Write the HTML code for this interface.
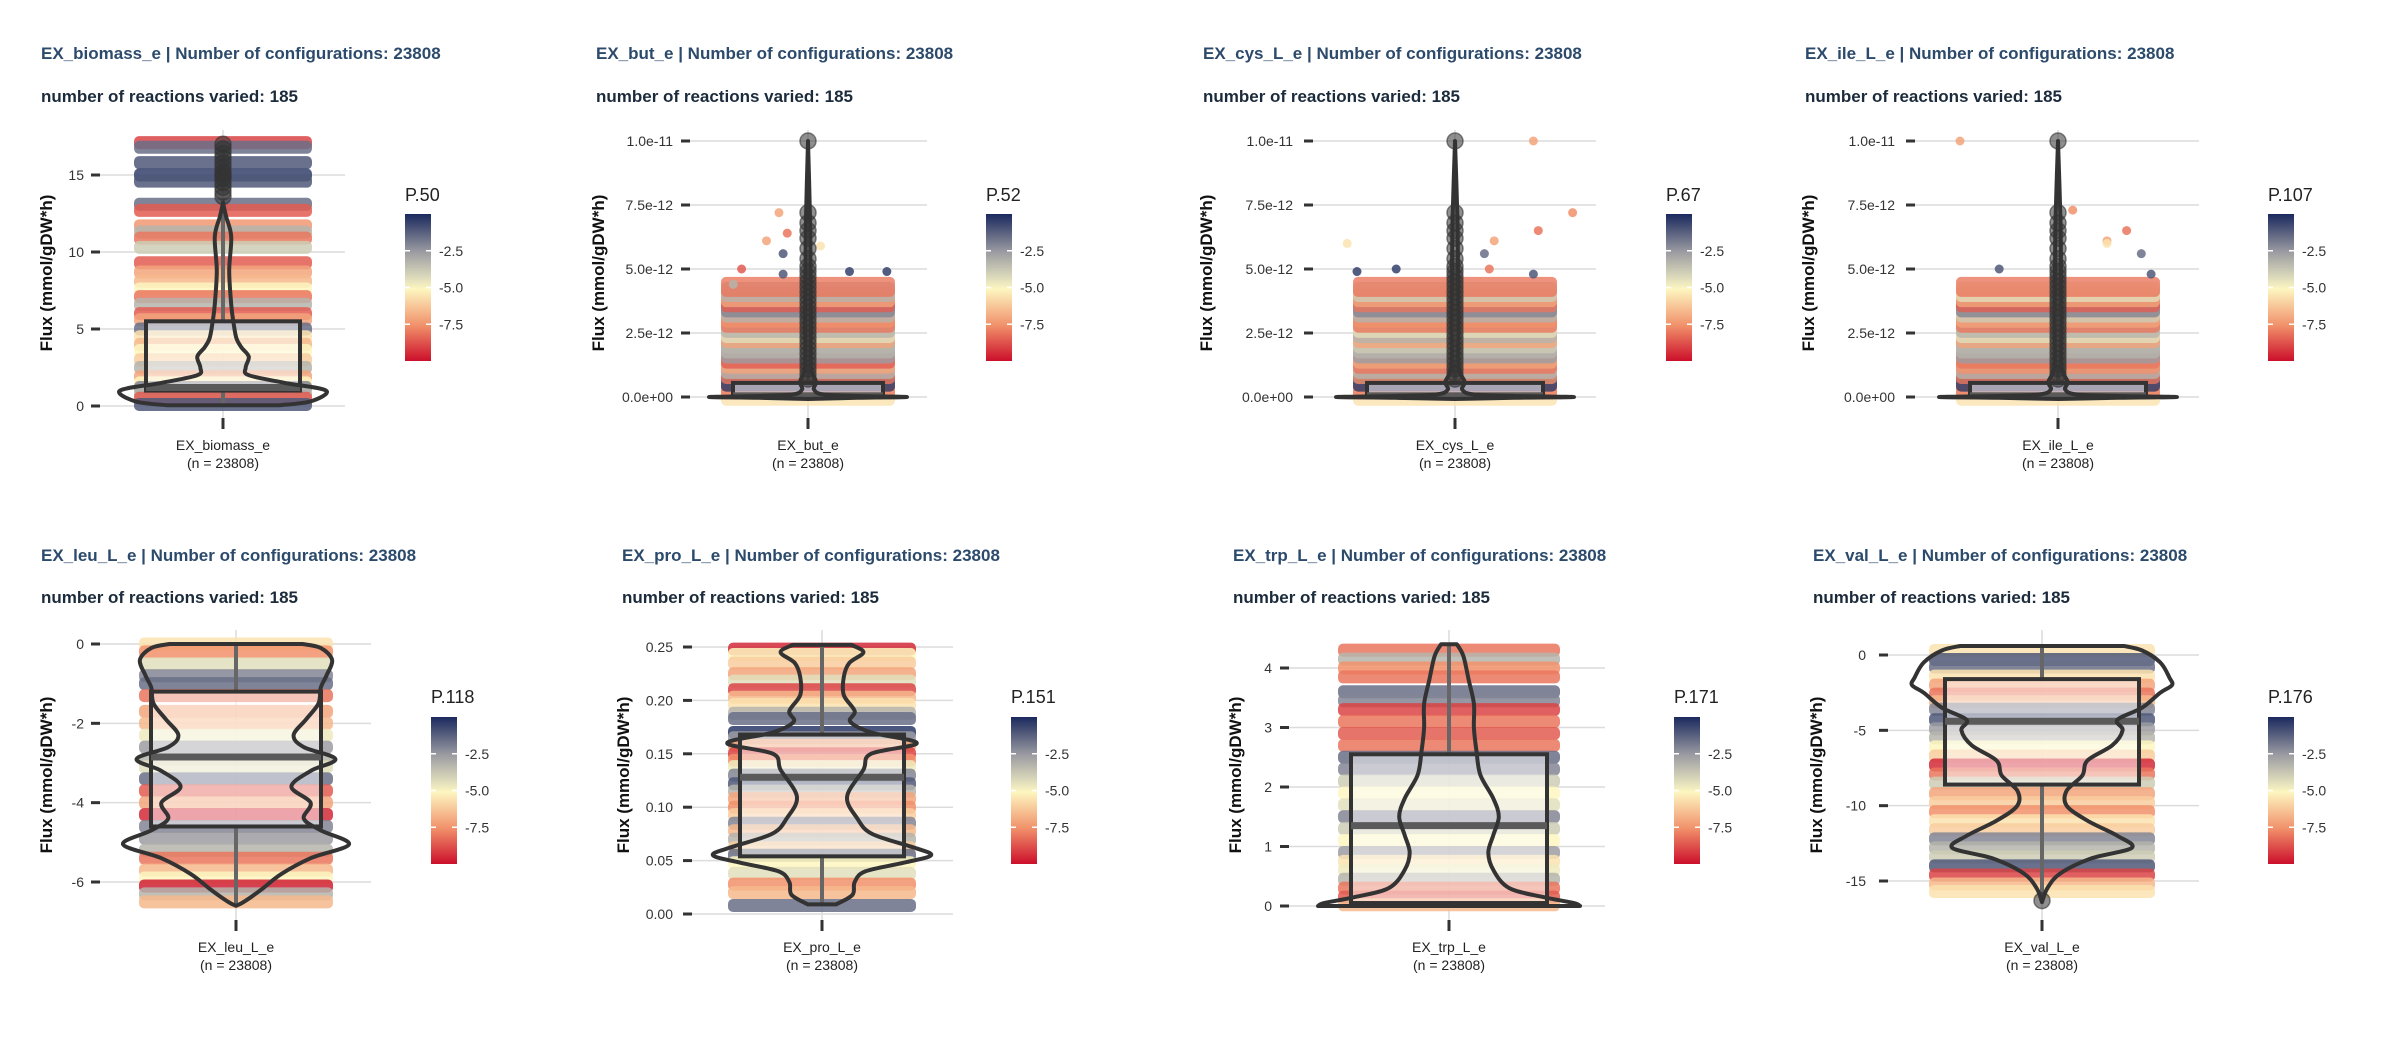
<!DOCTYPE html>
<html><head><meta charset="utf-8"><title>Flux distributions</title>
<style>
html,body{margin:0;padding:0;background:#fff;}
svg{display:block;font-family:"Liberation Sans",sans-serif;}
</style></head>
<body>
<svg id="chart" width="2400" height="1050" viewBox="0 0 2400 1050" xmlns="http://www.w3.org/2000/svg">
<defs>
<linearGradient id="cbar" x1="0" y1="0" x2="0" y2="1">
<stop offset="0" stop-color="#1b2a5e"/>
<stop offset="0.26" stop-color="#9c9ca2"/>
<stop offset="0.43" stop-color="#dcdabb"/>
<stop offset="0.51" stop-color="#fdf6c0"/>
<stop offset="0.76" stop-color="#f1906a"/>
<stop offset="1" stop-color="#cc0f2b"/>
</linearGradient>
</defs>
<rect width="2400" height="1050" fill="#fff"/>
</svg>
<script>
// ---------- DATA ----------
const p1Bands=[[17.1,-9],[16.8,-1.5],[15.8,-1],[15,-0.5],[14.6,-1],[13.1,-1.5],[12.7,-8.5],[11.7,-7.3],[11.3,-3],[10.9,-8],[10.3,-3.5],[9.3,-8.5],[8.7,-7],[8.1,-6.5],[7.6,-5],[7.1,-8],[6.6,-3],[6.0,-8.5],[5.6,-7],[5.0,-1.5],[4.5,-5.5],[4.0,-6.5],[3.6,-5],[3.0,-6],[2.5,-3],[1.9,-7],[1.5,-5],[1.2,-2],[0.8,-3],[0.5,-8.5],[0.1,-1]];
const p1Violin=[[0.05,0.55],[0.3,0.85],[1.0,1],[1.5,0.6],[2.0,0.25],[2.5,0.22],[3.2,0.25],[3.8,0.18],[4.4,0.13],[5.5,0.1],[6.6,0.08],[8.8,0.06],[11,0.08],[12.3,0.03],[13.2,0.0]];
const p1Box=[0,1.0,1.2,5.5,13.4];
const p1Out=[13.6,13.9,14.2,14.5,14.8,15.0,15.2,15.5,15.8,16.1,16.4,16.7,17.0];

const p2Bands=[[0.05,-5.5],[0.3,-8],[0.6,-0.3],[0.9,-8],[1.1,-3],[1.3,-7],[1.5,-8.5],[1.7,-2.5],[1.9,-3],[2.1,-3],[2.3,-7],[2.5,-4],[2.7,-3],[2.9,-8],[3.1,-7.5],[3.3,-3],[3.5,-2],[3.7,-8.5],[3.9,-7],[4.1,-3],[4.3,-8]];
const p2Violin=[[-0.08,0],[-0.03,0.5],[0,1],[0.04,0.5],[0.1,0.15],[0.3,0.06],[0.6,0.08],[1.2,0.03],[3,0.03],[5,0.025],[7,0.02],[10,0]];
const p2Box=[0,0,0.05,0.55,1.3];
const p2Out=[0.7,0.9,1.1,1.3,1.5,1.7,1.9,2.1,2.3,2.5,2.7,2.9,3.1,3.3,3.5,3.7,3.9,4.1,4.3,4.5,4.7,4.9,5.1,5.4,5.8,6.2,6.5,6.8,7.2,10];
const p2Scatter=[[7.2,-7,-0.35],[6.4,-8,-0.25],[6.1,-7,-0.5],[5.6,-1,-0.3],[4.8,-1,-0.3],[5.0,-8.5,-0.8],[4.9,-0.5,0.95],[5.9,-5.5,0.15],[4.9,-0.5,0.5],[4.4,-3,-0.9]];

const p3Bands=[[0.05,-5.5],[0.3,-8],[0.6,-0.3],[0.9,-7.5],[1.1,-3],[1.3,-8],[1.5,-7],[1.7,-2.5],[1.9,-3],[2.1,-3.5],[2.3,-7],[2.5,-3],[2.7,-4],[2.9,-8],[3.1,-7.5],[3.3,-3],[3.5,-2],[3.7,-8],[3.9,-7],[4.1,-3.5],[4.3,-8]];
const p3Violin=[[-0.08,0],[-0.03,0.5],[0,1],[0.04,0.5],[0.1,0.15],[0.3,0.06],[0.6,0.08],[1.2,0.03],[3,0.03],[5,0.025],[7,0.02],[10,0]];
const p3Box=[0,0,0.05,0.55,1.3];
const p3Out=[0.7,0.9,1.1,1.3,1.5,1.7,1.9,2.1,2.3,2.5,2.7,2.9,3.1,3.3,3.5,3.7,3.9,4.1,4.3,4.5,4.7,4.9,5.1,5.4,5.8,6.2,6.5,6.8,7.2,10];
const p3Scatter=[[10,-7,0.8],[7.2,-7.5,1.2],[6.5,-8,0.85],[6.1,-7,0.4],[5.6,-1.5,0.3],[5.0,-8,0.35],[4.8,-1,0.8],[6.0,-5.5,-1.1],[4.9,-0.5,-1.0],[5.0,-0.5,-0.6]];

const p4Bands=[[0.05,-5.5],[0.3,-8],[0.6,-0.3],[0.9,-8],[1.1,-3],[1.3,-7.5],[1.5,-8],[1.7,-2.5],[1.9,-3],[2.1,-3],[2.3,-7],[2.5,-4],[2.7,-3],[2.9,-8],[3.1,-7],[3.3,-3.5],[3.5,-2],[3.7,-8.5],[3.9,-7],[4.1,-4],[4.3,-8]];
const p4Violin=[[-0.08,0],[-0.03,0.5],[0,1],[0.04,0.5],[0.1,0.15],[0.3,0.06],[0.6,0.08],[1.2,0.03],[3,0.03],[5,0.025],[7,0.02],[10,0]];
const p4Box=[0,0,0.05,0.55,1.3];
const p4Out=[0.7,0.9,1.1,1.3,1.5,1.7,1.9,2.1,2.3,2.5,2.7,2.9,3.1,3.3,3.5,3.7,3.9,4.1,4.3,4.5,4.7,4.9,5.1,5.4,5.8,6.2,6.5,6.8,7.2,10];
const p4Scatter=[[10,-7,-1.0],[7.3,-7.5,0.15],[6.5,-8,0.7],[6.1,-7,0.5],[5.6,-1.5,0.85],[4.8,-1,0.95],[5.0,-1,-0.6],[6.0,-5.5,0.5]];

const p5Bands=[[0,-5.5],[-0.2,-7.5],[-0.5,-4],[-0.8,-2],[-1.0,-1.5],[-1.3,-8],[-1.7,-7],[-2.0,-6.5],[-2.3,-4.5],[-2.6,-2.5],[-2.9,-3],[-3.1,-4],[-3.4,-1.5],[-3.7,-8.5],[-4.0,-7],[-4.3,-9.5],[-4.6,-2],[-4.9,-2.5],[-5.2,-3],[-5.4,-8],[-5.7,-6.5],[-5.9,-5],[-6.1,-9.7],[-6.3,-3],[-6.5,-6.5]];
const p5Violin=[[0,0.59],[-0.1,0.75],[-0.4,0.85],[-0.8,0.8],[-1.1,0.75],[-1.5,0.73],[-1.9,0.62],[-2.3,0.51],[-2.6,0.6],[-2.9,0.88],[-3.2,0.66],[-3.6,0.49],[-4.0,0.66],[-4.4,0.6],[-4.7,0.75],[-5.05,1],[-5.4,0.66],[-5.8,0.4],[-6.2,0.22],[-6.5,0.07],[-6.6,0]];
const p5Box=[-6.6,-4.6,-2.85,-1.2,0];
const p5Out=[];

const p6Bands=[[0.248,-9.5],[0.243,-5],[0.235,-6],[0.225,-7],[0.218,-4],[0.21,-9],[0.203,-6.5],[0.196,-5.5],[0.188,-3],[0.183,-1.5],[0.17,-0.3],[0.165,-2.5],[0.158,-7],[0.15,-9],[0.144,-7.5],[0.138,-4.5],[0.13,-2],[0.122,-1],[0.115,-3],[0.108,-7],[0.1,-7.5],[0.093,-6],[0.085,-2],[0.078,-6.5],[0.07,-3],[0.062,-6],[0.055,-1.5],[0.048,-5],[0.038,-4],[0.028,-7.5],[0.02,-6.5],[0.008,-1.5]];
const p6Violin=[[0.252,0.27],[0.245,0.38],[0.235,0.25],[0.222,0.2],[0.205,0.2],[0.19,0.3],[0.18,0.26],[0.17,0.45],[0.16,0.87],[0.15,0.45],[0.135,0.38],[0.11,0.23],[0.09,0.32],[0.075,0.46],[0.062,0.85],[0.055,1],[0.048,0.75],[0.04,0.4],[0.03,0.3],[0.018,0.28],[0.009,0.13]];
const p6Box=[0.009,0.054,0.128,0.168,0.252];
const p6Out=[];

const p7Bands=[[4.3,-8],[4.15,-3],[4.0,-7.5],[3.85,-8],[3.6,-1.5],[3.45,-2],[3.3,-9],[3.1,-8],[2.9,-8.5],[2.7,-8],[2.5,-1.5],[2.3,-2],[2.1,-3.5],[1.9,-5],[1.7,-4],[1.5,-2],[1.3,-3.5],[1.1,-5],[0.9,-2.5],[0.75,-5.5],[0.6,-4.5],[0.45,-3],[0.3,-8],[0.15,-8.5],[0.02,-6.5]];
const p7Violin=[[4.4,0.06],[4.2,0.11],[3.8,0.15],[3.4,0.19],[3.0,0.19],[2.6,0.21],[2.2,0.24],[1.8,0.34],[1.5,0.38],[1.2,0.34],[0.9,0.3],[0.6,0.34],[0.3,0.46],[0.15,0.72],[0.05,0.95],[0,1]];
const p7Box=[0,0.05,1.35,2.55,4.4];
const p7Out=[];

const p8Bands=[[0.3,-5.5],[-0.3,-1],[-0.8,-1.5],[-1.4,-5.5],[-2,-7],[-2.6,-8],[-3.1,-6.5],[-3.6,-2],[-4.3,-1],[-4.9,-2.5],[-5.5,-3],[-6.1,-5],[-6.7,-6],[-7.3,-9.5],[-7.9,-8],[-8.5,-3.5],[-9.2,-7],[-9.8,-6],[-10.4,-7.5],[-11,-5.5],[-11.6,-6],[-12.2,-2],[-12.8,-3],[-13.4,-3.5],[-14,-1],[-14.6,-9],[-15.2,-6.5],[-15.7,-5.5]];
const p8Violin=[[0.6,0.63],[0.3,0.77],[-0.5,0.91],[-1.5,0.98],[-2.0,1],[-2.5,0.91],[-3.5,0.77],[-4.3,0.58],[-5,0.62],[-6,0.54],[-7,0.35],[-8,0.31],[-9,0.19],[-10,0.19],[-11,0.35],[-12,0.58],[-12.8,0.69],[-13.5,0.38],[-14.5,0.14],[-15.5,0.04],[-16.4,0]];
const p8Box=[-16.3,-8.6,-4.4,-1.6,0.5];
const p8Out=[-16.3];

const p1Ticks=[0,5,10,15], p1TickLabels=["0","5","10","15"];
const eTicks=[0,2.5,5,7.5,10], eTickLabels=["0.0e+00","2.5e-12","5.0e-12","7.5e-12","1.0e-11"];
const p5Ticks=[0,-2,-4,-6], p5TickLabels=["0","-2","-4","-6"];
const p6Ticks=[0,0.05,0.1,0.15,0.2,0.25], p6TickLabels=["0.00","0.05","0.10","0.15","0.20","0.25"];
const p7Ticks=[0,1,2,3,4], p7TickLabels=["0","1","2","3","4"];
const p8Ticks=[0,-5,-10,-15], p8TickLabels=["0","-5","-10","-15"];
const legendTicks=[-2.5,-5,-7.5], legendTickLabels=["-2.5","-5.0","-7.5"];
const reactions=["EX_biomass_e","EX_but_e","EX_cys_L_e","EX_ile_L_e","EX_leu_L_e","EX_pro_L_e","EX_trp_L_e","EX_val_L_e"];
const legendTitles=["P.50","P.52","P.67","P.107","P.118","P.151","P.171","P.176"];

// ---------- LAYOUT ----------
const rowTop={titleY:59,subY:102,legTitleY:201,barTop:214,barBot:361,xt0:418,xt1:429,xl0:450,xl1:468,gTop:130,yTitleY:273};
const rowBot={titleY:561,subY:603,legTitleY:703,barTop:717,barBot:864,xt0:920,xt1:931,xl0:952,xl1:970,gTop:630,yTitleY:775};
const panels=[
 {row:rowTop,titleX:41,cx:223,gl:100,gr:345,labR:84,v0:0,y0:406,v1:15,y1:175,ticks:p1Ticks,tl:p1TickLabels,ph:85,bh:77,vm:103,legX:405,ytx:52,bands:p1Bands,vio:p1Violin,box:p1Box,out:p1Out,sc:[],bandOp:0.85},
 {row:rowTop,titleX:596,cx:808,gl:690,gr:927,labR:673,v0:0,y0:397,v1:10,y1:141,ticks:eTicks,tl:eTickLabels,ph:83,bh:75,vm:99,legX:986,ytx:604,bands:p2Bands,vio:p2Violin,box:p2Box,out:p2Out,sc:p2Scatter,cloud:true,bandOp:0.8},
 {row:rowTop,titleX:1203,cx:1455,gl:1313,gr:1596,labR:1293,v0:0,y0:397,v1:10,y1:141,ticks:eTicks,tl:eTickLabels,ph:98,bh:88,vm:119,legX:1666,ytx:1212,bands:p3Bands,vio:p3Violin,box:p3Box,out:p3Out,sc:p3Scatter,cloud:true,bandOp:0.8},
 {row:rowTop,titleX:1805,cx:2058,gl:1915,gr:2199,labR:1895,v0:0,y0:397,v1:10,y1:141,ticks:eTicks,tl:eTickLabels,ph:98,bh:88,vm:119,legX:2268,ytx:1814,bands:p4Bands,vio:p4Violin,box:p4Box,out:p4Out,sc:p4Scatter,cloud:true,bandOp:0.8},
 {row:rowBot,titleX:41,cx:236,gl:100,gr:371,labR:84,v0:0,y0:644,v1:-6,y1:882,ticks:p5Ticks,tl:p5TickLabels,ph:93,bh:85,vm:113,legX:431,ytx:52,bands:p5Bands,vio:p5Violin,box:p5Box,out:p5Out,sc:[],bandOp:0.85},
 {row:rowBot,titleX:622,cx:822,gl:692,gr:953,labR:673,v0:0.25,y0:647,v1:0,y1:914,ticks:p6Ticks,tl:p6TickLabels,ph:90,bh:82,vm:109,legX:1011,ytx:629,bands:p6Bands,vio:p6Violin,box:p6Box,out:p6Out,sc:[],bandOp:0.85},
 {row:rowBot,titleX:1233,cx:1449,gl:1289,gr:1605,labR:1272,v0:4,y0:668,v1:0,y1:906,ticks:p7Ticks,tl:p7TickLabels,ph:107,bh:98,vm:131,legX:1674,ytx:1241,bands:p7Bands,vio:p7Violin,box:p7Box,out:p7Out,sc:[],bandOp:0.85},
 {row:rowBot,titleX:1813,cx:2042,gl:1888,gr:2199,labR:1866,v0:0,y0:655,v1:-15,y1:881,ticks:p8Ticks,tl:p8TickLabels,ph:109,bh:97,vm:130,legX:2268,ytx:1822,bands:p8Bands,vio:p8Violin,box:p8Box,out:p8Out,sc:[],bandOp:0.85}
];

// ---------- HELPERS ----------
const NS="http://www.w3.org/2000/svg";
const svgRoot=document.getElementById('chart');
function mk(tag,attrs,parent,text){const e=document.createElementNS(NS,tag);for(const k in attrs)e.setAttribute(k,attrs[k]);if(text!==undefined)e.textContent=text;(parent||svgRoot).appendChild(e);return e;}
const colorStops=[[0,[27,42,94]],[-2.5,[156,156,162]],[-3.8,[220,218,187]],[-5,[253,246,192]],[-7.5,[241,144,106]],[-10,[204,15,43]]];
function pcol(v){v=Math.max(-10,Math.min(0,v));for(let i=0;i<colorStops.length-1;i++){const a=colorStops[i],b=colorStops[i+1];if(v<=a[0]&&v>=b[0]){const t=(a[0]-v)/(a[0]-b[0]);const c=a[1].map((x,j)=>Math.round(x+(b[1][j]-x)*t));return `rgb(${c[0]},${c[1]},${c[2]})`;}}return 'rgb(204,15,43)';}
function curveSegs(pts){let d='';for(let i=0;i<pts.length-1;i++){const p0=pts[i-1]||pts[i],p1=pts[i],p2=pts[i+1],p3=pts[i+2]||p2;const c1=[p1[0]+(p2[0]-p0[0])/6,p1[1]+(p2[1]-p0[1])/6],c2=[p2[0]-(p3[0]-p1[0])/6,p2[1]-(p3[1]-p1[1])/6];d+=` C${c1[0].toFixed(1)},${c1[1].toFixed(1)} ${c2[0].toFixed(1)},${c2[1].toFixed(1)} ${p2[0].toFixed(1)},${p2[1].toFixed(1)}`;}return d;}

// ---------- DRAW ----------
panels.forEach((p,i)=>{
 const R=p.row;
 const ys=v=>p.y0+(v-p.v0)*(p.y1-p.y0)/(p.v1-p.v0);
 const g=mk('g',{});
 
 
 const t=mk('text',{x:p.titleX,y:R.titleY,'font-size':17,'font-weight':'bold',fill:'#2c4a6b'},g,reactions[i]+' | Number of configurations: 23808');
 
 
 const s=mk('text',{x:p.titleX,y:R.subY,'font-size':17,'font-weight':'bold',fill:'#1c2b3b'},g,'number of reactions varied: 185');
 
 
 const vg=mk('line',{x1:p.cx,x2:p.cx,y1:R.gTop,y2:R.xt0,stroke:'#dcdcdc','stroke-width':1.5},g);
 
 
 p.ticks.forEach((tv,k)=>{
  const y=ys(tv);
  const gl=mk('line',{x1:p.gl,x2:p.gr,y1:y,y2:y,stroke:'#dcdcdc','stroke-width':1.5},g);
  
  
  const tm=mk('line',{x1:p.gl-9,x2:p.gl,y1:y,y2:y,stroke:'#333','stroke-width':3},g);
  
  
  const tl=mk('text',{x:p.labR,y:y+5,'font-size':14,fill:'#333','text-anchor':'end'},g,p.tl[k]);
  
  
 });
 p.bands.forEach(b=>{
  const y=ys(b[0]);
  const h=p.cloud?20:13;
  const r=mk('rect',{x:p.cx-p.ph-4,y:y-h/2,width:2*p.ph+8,height:h,rx:5,fill:pcol(b[1]),opacity:p.bandOp},g);
  
  
 });
 p.sc.forEach(c=>{
  const pt=mk('circle',{cx:p.cx+c[2]*p.ph,cy:ys(c[0]),r:4.5,fill:pcol(c[1]),opacity:0.85},g);
  
  
 });
 const lo=p.box[0],q1=p.box[1],med=p.box[2],q3=p.box[3],hi=p.box[4];
 const w1=mk('line',{x1:p.cx,x2:p.cx,y1:ys(q3),y2:ys(hi),stroke:'#666','stroke-width':4},g);
 
 
 const w2=mk('line',{x1:p.cx,x2:p.cx,y1:ys(q1),y2:ys(lo),stroke:'#666','stroke-width':4},g);
 
 
 const bt=Math.min(ys(q1),ys(q3)),bb=Math.max(ys(q1),ys(q3));
 const bx=mk('rect',{x:p.cx-p.bh,y:bt,width:2*p.bh,height:Math.max(bb-bt,1),fill:'#fff','fill-opacity':0.5,stroke:'#333','stroke-width':4},g);
 
 
 const md=mk('line',{x1:p.cx-p.bh,x2:p.cx+p.bh,y1:ys(med),y2:ys(med),stroke:'#5a5a5a','stroke-width':7},g);
 
 
 const right=p.vio.map(v=>[p.cx+v[1]*p.vm,ys(v[0])]);
 const left=p.vio.slice().reverse().map(v=>[p.cx-v[1]*p.vm,ys(v[0])]);
 const dPath='M'+right[0][0]+','+right[0][1]+curveSegs(right)+' L'+left[0][0]+','+left[0][1]+curveSegs(left)+' Z';
 const vp=mk('path',{d:dPath,fill:'none',stroke:'#333','stroke-width':4,'stroke-linejoin':'round'},g);
 
 
 p.out.forEach(o=>{
  const c=mk('circle',{cx:p.cx,cy:ys(o),r:8,fill:'#333','fill-opacity':0.55,stroke:'#333','stroke-opacity':0.6,'stroke-width':1.5},g);
  
  
 });
 const xt=mk('line',{x1:p.cx,x2:p.cx,y1:R.xt0,y2:R.xt1,stroke:'#333','stroke-width':3},g);
 
 
 const xl=mk('text',{x:p.cx,y:R.xl0,'font-size':14,fill:'#222','text-anchor':'middle'},g,reactions[i]);
 
 
 const xn=mk('text',{x:p.cx,y:R.xl1,'font-size':14,fill:'#222','text-anchor':'middle'},g,'(n = 23808)');
 
 
 const yt=mk('text',{x:p.ytx,y:R.yTitleY,'font-size':17,'font-weight':'bold',fill:'#111','text-anchor':'middle',transform:`rotate(-90 ${p.ytx} ${R.yTitleY})`},g,'Flux (mmol/gDW*h)');
 
 
 const lt=mk('text',{x:p.legX,y:R.legTitleY,'font-size':18,fill:'#222'},g,legendTitles[i]);
 
 
 const cb=mk('rect',{x:p.legX,y:R.barTop,width:26,height:R.barBot-R.barTop,fill:'url(#cbar)'},g);
 
 
 const ls=v=>R.barTop+(0-v)/10*(R.barBot-R.barTop);
 legendTicks.forEach((lv,k)=>{
  const y=ls(lv);
  const a=mk('line',{x1:p.legX,x2:p.legX+5,y1:y,y2:y,stroke:'#fff','stroke-width':1.5},g);
  
  
  const b=mk('line',{x1:p.legX+21,x2:p.legX+26,y1:y,y2:y,stroke:'#fff','stroke-width':1.5},g);
  
  
  const l=mk('text',{x:p.legX+34,y:y+5,'font-size':14,fill:'#333'},g,legendTickLabels[k]);
  
  
 });
});
</script>
</body></html>
